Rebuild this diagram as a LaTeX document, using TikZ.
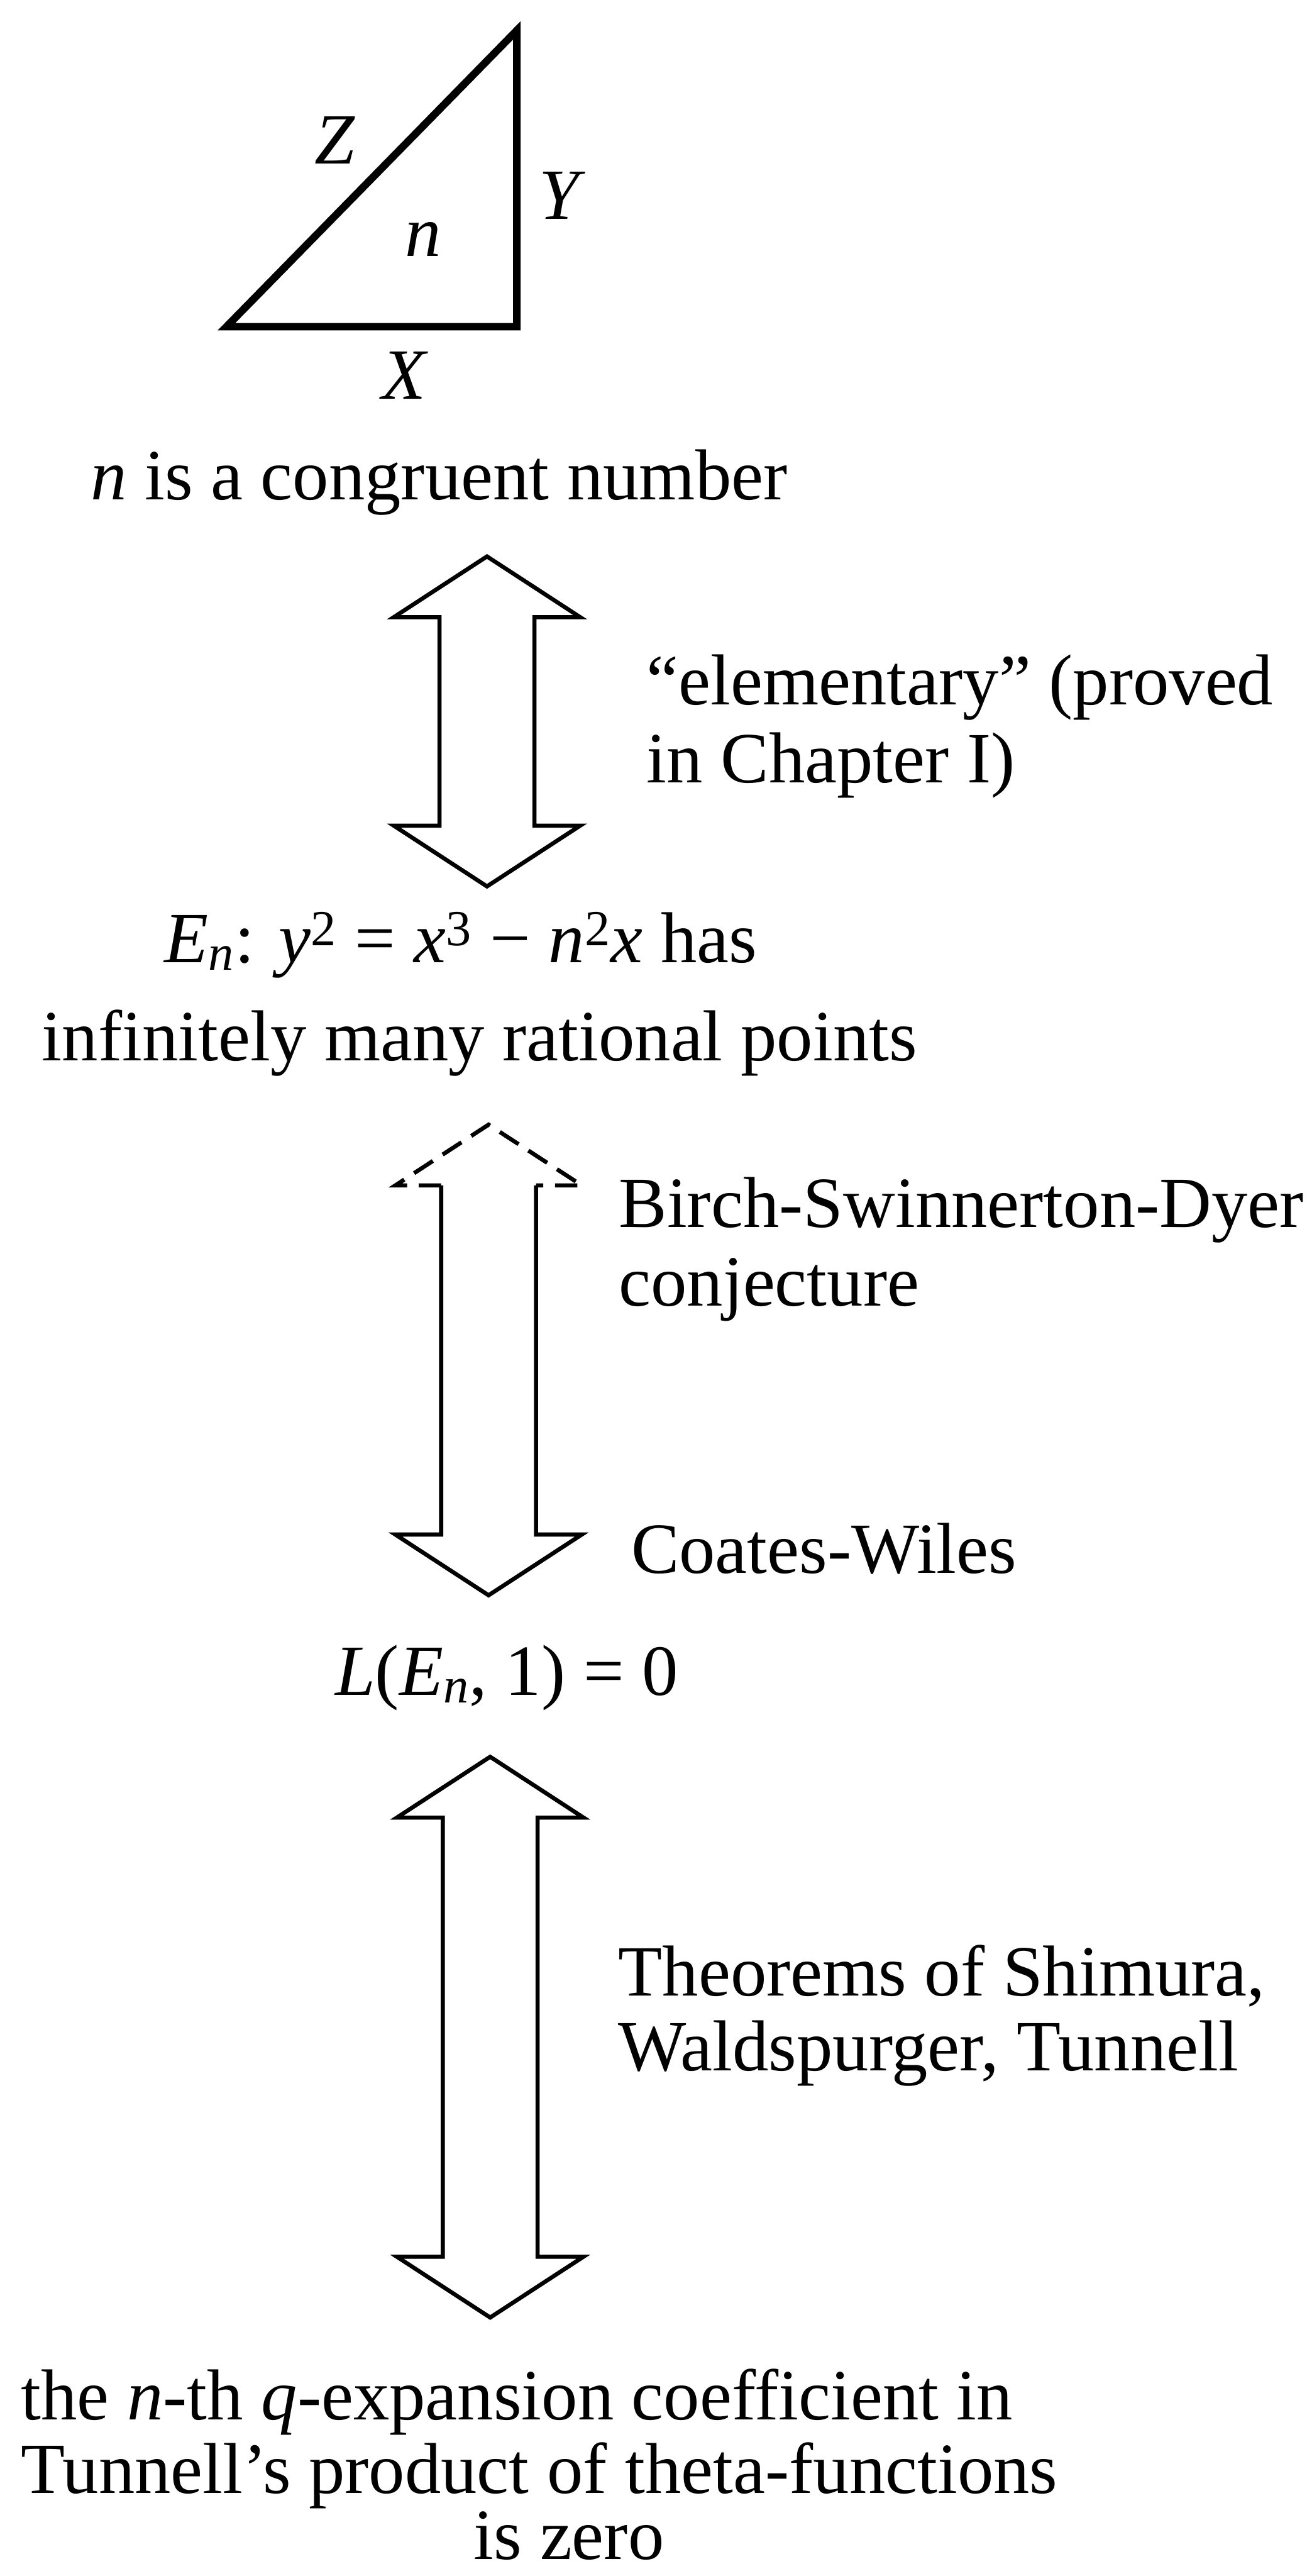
\documentclass[tikz,border=0pt]{standalone}
\usepackage{fontspec}
\setmainfont{Liberation Serif}
\usetikzlibrary{calc}

\begin{document}
\begin{tikzpicture}[
  txt/.style={font=\fontsize{38.5}{40}\selectfont, inner sep=0pt},
  lbl/.style={font=\fontsize{38.5}{40}\selectfont\itshape, inner sep=0pt},
  tri/.style={line width=4pt, line join=miter},
  blk/.style={line width=2.2pt, line join=miter},
  blkdash/.style={blk, dash pattern=on 0.42cm off 0.22cm}
]
  \useasboundingbox (0,0) rectangle (24.53,-48.33);

  % right triangle with sides X, Y, Z and area n
  \coordinate (tA) at (4.25,-6.13);
  \coordinate (tB) at (9.70,-6.13);
  \coordinate (tC) at (9.70,-0.57);
  \draw[tri] (tA) -- (tB) -- (tC) -- cycle;
  \node[lbl] (sideZ) at (6.28,-2.63) {Z};
  \node[lbl] (sideY) at (10.49,-3.67) {Y};
  \node[lbl] (area) at (7.94,-4.49) {n};
  \node[lbl] (sideX) at (7.58,-7.04) {X};

  % the four statements
  \node[txt, anchor=base] (congr) at (8.24,-9.37) {\textit{n} is a congruent number};
  \node[txt, anchor=base] (curve) at (8.65,-18.06)
    {\textit{E}\textsubscript{\textit{n}}: \textit{y}\textsuperscript{2} = \textit{x}\textsuperscript{3} − \textit{n}\textsuperscript{2}\textit{x} has};
  \node[txt, anchor=base] (points) at (9.00,-19.90) {infinitely many rational points};
  \node[txt, anchor=base] (lval) at (9.51,-31.80) {\textit{L}(\textit{E}\textsubscript{\textit{n}}, 1) = 0};
  \node[txt, anchor=base west] (coef1) at (0.39,-45.40) {the \textit{n}-th \textit{q}-expansion coefficient in};
  \node[txt, anchor=base west] (coef2) at (0.39,-46.78) {Tunnell's product of theta-functions};
  \node[txt, anchor=base] (coef3) at (10.68,-48.02) {is zero};

  % reasons beside the arrows
  \node[txt, anchor=base west] (elem1) at (12.13,-13.22) {``elementary'' (proved};
  \node[txt, anchor=base west] (elem2) at (12.13,-14.68) {in Chapter I)};
  \node[txt, anchor=base west] (bsd1) at (11.61,-23.03) {Birch-Swinnerton-Dyer};
  \node[txt, anchor=base west] (bsd2) at (11.61,-24.50) {conjecture};
  \node[txt, anchor=base west] (cw) at (11.84,-29.51) {Coates-Wiles};
  \node[txt, anchor=base west] (thm1) at (11.60,-37.45) {Theorems of Shimura,};
  \node[txt, anchor=base west] (thm2) at (11.60,-38.85) {Waldspurger, Tunnell};

  % arrow tips
  \coordinate (up1) at (9.14,-10.44);
  \coordinate (dn1) at (9.14,-16.63);
  \coordinate (up2) at (9.17,-21.10);
  \coordinate (dn2) at (9.17,-29.93);
  \coordinate (up3) at (9.20,-32.96);
  \coordinate (dn3) at (9.20,-43.48);

  % hollow double arrows
  \draw[blk] (up1) -- ++(1.75,-1.14) -- ++(-0.86,0) -- ($(dn1)+(0.89,1.14)$) -- ++(0.86,0) -- (dn1)
    -- ++(-1.75,1.14) -- ++(0.86,0) -- ($(up1)+(-0.89,-1.14)$) -- ++(-0.86,0) -- cycle;

  \draw[blkdash] ($(up2)+(-0.89,-1.14)$) -- ++(-0.86,0) -- (up2) -- ++(1.75,-1.14) -- ++(-0.86,0);
  \draw[blk] ($(up2)+(0.89,-1.14)$) -- ($(dn2)+(0.89,1.14)$) -- ++(0.86,0) -- (dn2)
    -- ++(-1.75,1.14) -- ++(0.86,0) -- ($(up2)+(-0.89,-1.14)$);

  \draw[blk] (up3) -- ++(1.75,-1.14) -- ++(-0.86,0) -- ($(dn3)+(0.89,1.14)$) -- ++(0.86,0) -- (dn3)
    -- ++(-1.75,1.14) -- ++(0.86,0) -- ($(up3)+(-0.89,-1.14)$) -- ++(-0.86,0) -- cycle;
\end{tikzpicture}
\end{document}
